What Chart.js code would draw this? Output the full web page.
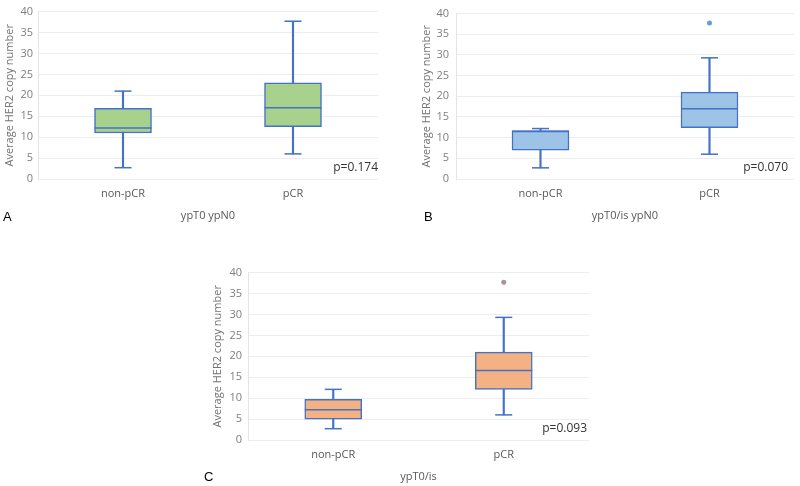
<!DOCTYPE html>
<html>
<head>
<meta charset="utf-8">
<script src="https://cdn.jsdelivr.net/npm/chart.js@4/dist/chart.umd.min.js"></script>
<style>
  html, body { margin: 0; padding: 0; background: #ffffff; }
  body { width: 800px; height: 486px; position: relative; overflow: hidden; }
  .panel { position: absolute; }
  .letter { position: absolute; font-family: "Liberation Sans", Arial, sans-serif; font-size: 13px; color: #000; line-height: 13px; }
</style>
</head>
<body>
<div class="panel" style="left:0px;top:0px;width:400px;height:225px;"><canvas id="chartA"></canvas></div>
<div class="panel" style="left:400px;top:0px;width:400px;height:225px;"><canvas id="chartB"></canvas></div>
<div class="panel" style="left:200px;top:260px;width:400px;height:226px;"><canvas id="chartC"></canvas></div>
<div class="letter" style="left:3px;top:210px;">A</div>
<div class="letter" style="left:424px;top:210px;">B</div>
<div class="letter" style="left:204px;top:470px;">C</div>
<script>
// ---- data ----
const categories = ['non-pCR', 'pCR'];
const yTicksMin = 0, yTicksMax = 40, yTickStep = 5;
const yAxisTitle = 'Average HER2 copy number';

// Panel A: ypT0 ypN0
const titleA = 'ypT0 ypN0';
const pValueA = 'p=0.174';
const minA = [2.7, 6.0];
const q1A = [11.0, 12.5];
const medianA = [12.2, 17.0];
const q3A = [16.9, 23.0];
const maxA = [21.0, 37.7];
const outlierA = [null, null];

// Panel B: ypT0/is ypN0
const titleB = 'ypT0/is ypN0';
const pValueB = 'p=0.070';
const minB = [2.7, 6.0];
const q1B = [7.0, 12.4];
const medianB = [11.5, 17.0];
const q3B = [11.7, 21.0];
const maxB = [12.2, 29.3];
const outlierB = [null, 37.7];

// Panel C: ypT0/is
const titleC = 'ypT0/is';
const pValueC = 'p=0.093';
const minC = [2.7, 6.0];
const q1C = [5.0, 12.1];
const medianC = [7.2, 16.6];
const q3C = [9.7, 21.0];
const maxC = [12.1, 29.3];
const outlierC = [null, 37.7];

// ---- styling ----
Chart.defaults.font.family = "'Open Sans', 'Noto Sans', sans-serif";
Chart.defaults.font.size = 11;
const strokeBlue = '#4472c4';

const pLabelPlugin = {
  id: 'pLabel',
  afterDatasetsDraw(chart, args, opts) {
    if (!opts || !opts.text) return;
    const ctx = chart.ctx, a = chart.chartArea;
    ctx.save();
    ctx.font = "12px 'Open Sans', sans-serif";
    ctx.fillStyle = '#333333';
    ctx.textAlign = 'right';
    ctx.textBaseline = 'alphabetic';
    ctx.fillText(opts.text, a.right - opts.dx, a.bottom - opts.dy);
    ctx.restore();
  }
};

function makePanel(id, p) {
  const pairs = (lo, hi) => lo.map((v, i) => [v, hi[i]]);
  return new Chart(document.getElementById(id), {
    type: 'bar',
    data: {
      labels: categories,
      datasets: [
        { // whiskers
          type: 'bar', data: pairs(p.min, p.max), grouped: false, order: 4,
          backgroundColor: strokeBlue, borderWidth: 0, barThickness: 1.5
        },
        { // boxes
          type: 'bar', data: pairs(p.q1, p.q3), grouped: false, order: 3,
          backgroundColor: p.fill, borderColor: strokeBlue, borderWidth: 1.5,
          borderSkipped: false, barThickness: 57
        },
        { // medians
          type: 'line', data: p.median, showLine: false, order: 1, clip: false,
          pointStyle: 'line', pointRadius: 28.5, pointBorderColor: strokeBlue, pointBorderWidth: 1.5
        },
        { // upper caps
          type: 'line', data: p.max, showLine: false, order: 1, clip: false,
          pointStyle: 'line', pointRadius: 8.5, pointBorderColor: strokeBlue, pointBorderWidth: 1.5
        },
        { // lower caps
          type: 'line', data: p.min, showLine: false, order: 1, clip: false,
          pointStyle: 'line', pointRadius: 8.5, pointBorderColor: strokeBlue, pointBorderWidth: 1.5
        },
        { // outliers
          type: 'line', data: p.outlier, showLine: false, order: 0, clip: false,
          pointStyle: 'circle', pointRadius: 2.5, pointBackgroundColor: p.outlierColor,
          pointBorderColor: p.outlierColor, pointBorderWidth: 0
        }
      ]
    },
    options: {
      responsive: true,
      maintainAspectRatio: false,
      animation: false,
      events: [],
      layout: { autoPadding: false, padding: { left: 0, top: p.padTop, right: p.padRight, bottom: 0 } },
      plugins: {
        legend: { display: false },
        tooltip: { enabled: false },
        pLabel: { text: p.pValue, dx: p.pdx, dy: 8 }
      },
      scales: {
        x: {
          type: 'category',
          offset: true,
          grid: { display: false, drawTicks: false },
          border: { display: false },
          ticks: { color: '#595959', padding: 8.4, font: { size: 11 } },
          title: { display: true, text: p.title, color: '#595959', font: { size: 11 }, padding: { top: 0, bottom: 2.4 } },
          afterFit(scale) { scale.height = 46; }
        },
        y: {
          min: yTicksMin, max: yTicksMax,
          grid: { color: '#ededed', lineWidth: 1, drawTicks: false },
          border: { display: true, color: '#e4e4e4' },
          ticks: { stepSize: yTickStep, color: '#7f7f7f', padding: p.tickPad, font: { size: 11 } },
          title: { display: true, text: yAxisTitle, color: '#737373', font: { size: 11 }, padding: { top: p.titlePad, bottom: 0 } },
          afterFit(scale) { scale.width = p.yWidth; }
        }
      }
    },
    plugins: [pLabelPlugin]
  });
}

makePanel('chartA', {
  min: minA, q1: q1A, median: medianA, q3: q3A, max: maxA, outlier: outlierA,
  fill: '#a9d18e', outlierColor: '#6a9bd8', title: titleA, pValue: pValueA,
  padTop: 8, padRight: 22, yWidth: 38, tickPad: 5, titlePad: 3.4, pdx: 0
});
makePanel('chartB', {
  min: minB, q1: q1B, median: medianB, q3: q3B, max: maxB, outlier: outlierB,
  fill: '#9dc3e6', outlierColor: '#6a9bd8', title: titleB, pValue: pValueB,
  padTop: 8, padRight: 6, yWidth: 56, tickPad: 7, titlePad: 20.4, pdx: 6
});
makePanel('chartC', {
  min: minC, q1: q1C, median: medianC, q3: q3C, max: maxC, outlier: outlierC,
  fill: '#f4b183', outlierColor: '#a8909c', title: titleC, pValue: pValueC,
  padTop: 9, padRight: 11, yWidth: 48, tickPad: 6, titlePad: 11.4, pdx: 2
});
</script>
</body>
</html>
